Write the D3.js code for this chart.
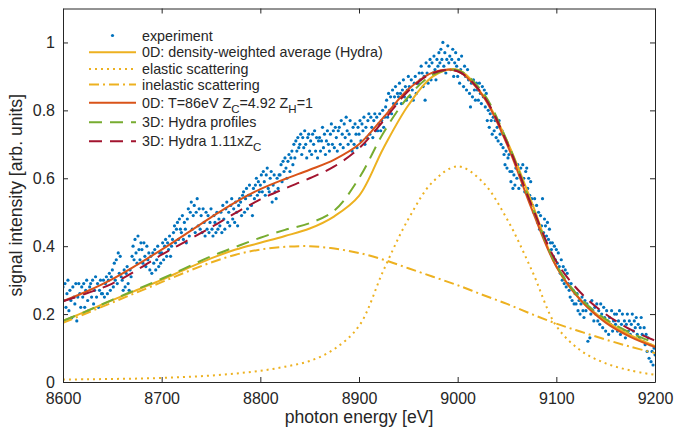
<!DOCTYPE html>
<html>
<head>
<meta charset="utf-8">
<script src="https://cdn.jsdelivr.net/npm/d3@7"></script>
<style>
  body { margin: 0; background: #fff; }
  svg { display: block; font-family: "Liberation Sans", Arial, Helvetica, sans-serif; }
</style>
</head>
<body>
<div id="chart"></div>
<script>
// tick values
const xTicks = [8600, 8700, 8800, 8900, 9000, 9100, 9200];
const yTicks = [0, 0.2, 0.4, 0.6, 0.8, 1];

// model curves, sampled every 25 eV
const modelEnergy = [8600, 8625, 8650, 8675, 8700, 8725, 8750, 8775, 8800, 8825, 8850, 8875, 8900,
    8925, 8950, 8975, 9000, 9025, 9050, 9075, 9100, 9125, 9150, 9175, 9200];
const densityAvg = [0.180, 0.210, 0.241, 0.271, 0.301, 0.333, 0.364, 0.390, 0.410, 0.430, 0.452, 0.488, 0.548,
    0.690, 0.815, 0.900, 0.920, 0.847, 0.710, 0.530, 0.340, 0.240, 0.180, 0.138, 0.106];
const elastic = [0.007, 0.008, 0.009, 0.010, 0.012, 0.015, 0.019, 0.025, 0.033, 0.045, 0.062, 0.097, 0.165,
    0.330, 0.480, 0.590, 0.635, 0.590, 0.480, 0.330, 0.165, 0.092, 0.055, 0.034, 0.021];
const inelastic = [0.174, 0.204, 0.234, 0.264, 0.294, 0.324, 0.352, 0.375, 0.390, 0.398, 0.400, 0.393, 0.380,
    0.360, 0.335, 0.310, 0.285, 0.257, 0.230, 0.200, 0.172, 0.148, 0.125, 0.104, 0.085];
const zeroDFit = [0.238, 0.268, 0.303, 0.345, 0.390, 0.437, 0.485, 0.530, 0.568, 0.598, 0.625, 0.655, 0.700,
    0.780, 0.862, 0.912, 0.915, 0.845, 0.700, 0.510, 0.340, 0.240, 0.175, 0.133, 0.103];
const hydraProfiles = [0.180, 0.210, 0.242, 0.273, 0.304, 0.337, 0.370, 0.398, 0.425, 0.448, 0.468, 0.505, 0.600,
    0.735, 0.840, 0.905, 0.918, 0.855, 0.710, 0.520, 0.345, 0.245, 0.185, 0.145, 0.115];
const hydraZc = [0.238, 0.262, 0.290, 0.330, 0.375, 0.415, 0.455, 0.498, 0.538, 0.570, 0.600, 0.635, 0.688,
    0.770, 0.857, 0.910, 0.915, 0.848, 0.705, 0.520, 0.355, 0.262, 0.200, 0.155, 0.122];

// measured spectrum, one value per eV from 8600 eV
const expStart = 8600;
const expValues = [
  0.28,0.24,0.29,0.22,0.26,0.30,0.21,0.27,0.24,0.19,0.28,0.25,0.23,0.29,0.18,0.25,0.29,0.26,0.22,0.28,
  0.25,0.29,0.22,0.27,0.30,0.24,0.21,0.28,0.29,0.25,0.30,0.23,0.27,0.31,0.25,0.29,0.22,0.27,0.30,0.26,
  0.26,0.30,0.25,0.29,0.31,0.26,0.30,0.32,0.27,0.31,0.33,0.28,0.35,0.30,0.36,0.29,0.38,0.32,0.37,0.31,
  0.30,0.27,0.33,0.28,0.32,0.34,0.29,0.27,0.33,0.31,0.37,0.40,0.36,0.42,0.38,0.35,0.43,0.39,0.36,0.41,
  0.39,0.35,0.41,0.37,0.34,0.40,0.36,0.38,0.33,0.37,0.32,0.38,0.35,0.39,0.33,0.36,0.40,0.34,0.38,0.35,
  0.38,0.41,0.36,0.40,0.42,0.37,0.41,0.39,0.43,0.37,0.40,0.42,0.44,0.46,0.41,0.45,0.47,0.42,0.48,0.45,
  0.44,0.49,0.42,0.47,0.45,0.41,0.48,0.51,0.43,0.50,0.53,0.45,0.49,0.52,0.44,0.50,0.54,0.46,0.51,0.45,
  0.49,0.44,0.51,0.47,0.43,0.50,0.45,0.49,0.44,0.47,0.51,0.45,0.43,0.49,0.47,0.44,0.50,0.45,0.48,0.46,
  0.50,0.44,0.52,0.48,0.45,0.51,0.53,0.47,0.50,0.46,0.52,0.54,0.48,0.51,0.47,0.53,0.50,0.46,0.52,0.54,
  0.53,0.49,0.55,0.56,0.50,0.54,0.57,0.51,0.55,0.58,0.55,0.52,0.49,0.57,0.54,0.58,0.60,0.55,0.59,0.56,
  0.58,0.61,0.56,0.62,0.59,0.55,0.61,0.63,0.57,0.56,0.60,0.62,0.53,0.58,0.61,0.56,0.54,0.60,0.57,0.61,
  0.61,0.64,0.59,0.65,0.62,0.66,0.63,0.60,0.65,0.67,0.62,0.66,0.68,0.64,0.70,0.66,0.71,0.68,0.72,0.69,
  0.70,0.73,0.67,0.72,0.69,0.74,0.70,0.66,0.72,0.73,0.68,0.71,0.67,0.73,0.70,0.74,0.68,0.72,0.66,0.71,
  0.72,0.68,0.71,0.75,0.69,0.73,0.67,0.71,0.74,0.70,0.68,0.73,0.76,0.70,0.74,0.69,0.75,0.72,0.68,0.74,
  0.75,0.70,0.77,0.73,0.69,0.76,0.72,0.78,0.74,0.70,0.73,0.77,0.71,0.68,0.75,0.70,0.76,0.73,0.69,0.75,
  0.73,0.77,0.71,0.76,0.74,0.78,0.70,0.75,0.72,0.77,0.79,0.73,0.78,0.75,0.72,0.77,0.79,0.74,0.78,0.74,
  0.76,0.79,0.74,0.77,0.80,0.75,0.78,0.81,0.83,0.78,0.85,0.80,0.84,0.79,0.86,0.82,0.84,0.87,0.82,0.85,
  0.84,0.88,0.85,0.82,0.86,0.89,0.84,0.87,0.83,0.86,0.90,0.87,0.84,0.89,0.86,0.83,0.88,0.90,0.85,0.88,
  0.88,0.91,0.89,0.93,0.91,0.87,0.90,0.83,0.94,0.91,0.88,0.93,0.95,0.89,0.94,0.91,0.96,0.92,0.89,0.95,
  0.93,0.97,0.94,0.98,0.95,1.00,0.93,0.97,0.91,0.95,0.99,0.94,0.96,0.92,0.95,0.98,0.90,0.94,0.97,0.93,
  0.90,0.95,0.88,0.92,0.96,0.91,0.87,0.93,0.90,0.86,0.92,0.89,0.85,0.81,0.88,0.84,0.89,0.86,0.83,0.88,
  0.86,0.83,0.88,0.85,0.82,0.87,0.84,0.86,0.81,0.85,0.77,0.80,0.75,0.79,0.77,0.73,0.78,0.74,0.77,0.72,
  0.75,0.71,0.77,0.73,0.70,0.74,0.69,0.67,0.64,0.68,0.63,0.66,0.67,0.62,0.59,0.62,0.57,0.61,0.58,0.63,
  0.60,0.64,0.57,0.61,0.63,0.58,0.64,0.60,0.56,0.62,0.63,0.57,0.60,0.55,0.59,0.54,0.52,0.50,0.54,0.49,
  0.52,0.47,0.50,0.45,0.49,0.46,0.54,0.44,0.48,0.46,0.43,0.47,0.42,0.45,0.41,0.39,0.41,0.37,0.40,0.36,
  0.39,0.35,0.38,0.34,0.32,0.36,0.30,0.34,0.29,0.33,0.28,0.32,0.29,0.27,0.25,0.29,0.24,0.27,0.23,0.26,
  0.23,0.26,0.21,0.24,0.20,0.23,0.25,0.21,0.19,0.24,0.21,0.23,0.12,0.22,0.13,0.20,0.24,0.21,0.18,0.22,
  0.20,0.23,0.18,0.21,0.17,0.23,0.20,0.16,0.22,0.19,0.15,0.21,0.18,0.14,0.19,0.17,0.21,0.15,0.18,0.20,
  0.17,0.20,0.15,0.18,0.21,0.14,0.17,0.20,0.15,0.18,0.13,0.17,0.20,0.15,0.18,0.14,0.17,0.20,0.15,0.18,
  0.16,0.19,0.14,0.17,0.13,0.16,0.19,0.14,0.12,0.16,0.11,0.14,0.09,0.13,0.07,0.11,0.06,0.09,0.05,0.10,
  0.08
];

const seriesNames = [
    "experiment",
    "0D: density-weighted average (Hydra)",
    "elastic scattering",
    "inelastic scattering",
    "0D: T=86eV Z_C=4.92 Z_H=1",
    "3D: Hydra profiles",
    "3D: Hydra 1.11xZ_C"
];

const width = 686, height = 428;
const margin = { left: 63, right: 31, top: 8.5, bottom: 46 };

const svg = d3.select("#chart").append("svg")
    .attr("width", width)
    .attr("height", height);

const x = d3.scaleLinear().domain([8600, 9200]).range([margin.left, width - margin.right]);
const y = d3.scaleLinear().domain([0, 1.1]).range([height - margin.bottom, margin.top]);

svg.append("clipPath").attr("id", "plotclip")
    .append("rect")
    .attr("x", margin.left).attr("y", margin.top)
    .attr("width", x.range()[1] - x.range()[0])
    .attr("height", y.range()[0] - y.range()[1]);

const plot = svg.append("g").attr("clip-path", "url(#plotclip)");

// experiment points
const expData = expValues.map((v, i) => ({ e: expStart + i, v: v }));
plot.append("g")
    .selectAll("circle")
    .data(expData)
    .enter().append("circle")
    .attr("cx", d => x(d.e))
    .attr("cy", d => y(d.v))
    .attr("r", 1.6)
    .attr("fill", "#0072BD");

const curves = [
    { values: densityAvg, color: "#EDB120", dash: null },
    { values: elastic, color: "#EDB120", dash: "2,4" },
    { values: inelastic, color: "#EDB120", dash: "10,4,2,4" },
    { values: zeroDFit, color: "#D95319", dash: null },
    { values: hydraProfiles, color: "#77AC30", dash: "13,8" },
    { values: hydraZc, color: "#A2142F", dash: "13,8" }
];

const line = d3.line()
    .x(d => x(d[0]))
    .y(d => y(d[1]))
    .curve(d3.curveCatmullRom.alpha(0.5));

curves.forEach(c => {
    plot.append("path")
        .datum(modelEnergy.map((e, i) => [e, c.values[i]]))
        .attr("d", line)
        .attr("fill", "none")
        .attr("stroke", c.color)
        .attr("stroke-width", 2)
        .attr("stroke-dasharray", c.dash);
});

// axes (box with inward ticks)
const axisColor = "#262626";
const tick = 5;

svg.append("g")
    .attr("transform", `translate(0,${y.range()[0]})`)
    .call(d3.axisBottom(x).tickValues(xTicks).tickSizeInner(-tick).tickSizeOuter(0)
        .tickPadding(10.5).tickFormat(d3.format("d")));
svg.append("g")
    .attr("transform", `translate(0,${y.range()[1]})`)
    .call(d3.axisTop(x).tickValues(xTicks).tickSizeInner(-tick).tickSizeOuter(0).tickFormat(""));
svg.append("g")
    .attr("transform", `translate(${x.range()[0]},0)`)
    .call(d3.axisLeft(y).tickValues(yTicks).tickSizeInner(-tick).tickSizeOuter(0)
        .tickPadding(8).tickFormat(d => String(d)));
svg.append("g")
    .attr("transform", `translate(${x.range()[1]},0)`)
    .call(d3.axisRight(y).tickValues(yTicks).tickSizeInner(-tick).tickSizeOuter(0).tickFormat(""));

svg.selectAll(".domain, .tick line").attr("stroke", axisColor).attr("stroke-width", 1);
svg.selectAll(".tick text").attr("fill", axisColor).attr("font-size", 16)
    .attr("font-family", "'Liberation Sans', Arial, Helvetica, sans-serif");

svg.append("text")
    .attr("x", (x.range()[0] + x.range()[1]) / 2)
    .attr("y", 423)
    .attr("text-anchor", "middle")
    .attr("font-size", 17.6)
    .attr("fill", axisColor)
    .text("photon energy [eV]");

svg.append("text")
    .attr("transform", `translate(22,${(y.range()[0] + y.range()[1]) / 2}) rotate(-90)`)
    .attr("text-anchor", "middle")
    .attr("font-size", 17.6)
    .attr("fill", axisColor)
    .text("signal intensity [arb. units]");

// legend
const legendY = [35.5, 52.3, 69, 84.5, 102.7, 122.3, 141.3];
const legendStyles = [{ marker: true }].concat(curves);
const legend = svg.append("g");

seriesNames.forEach((name, i) => {
    const ly = legendY[i];
    const st = legendStyles[i];
    if (st.marker) {
        legend.append("circle")
            .attr("cx", 112.5).attr("cy", ly).attr("r", 1.6)
            .attr("fill", "#0072BD");
    } else {
        legend.append("line")
            .attr("x1", 89).attr("x2", 136)
            .attr("y1", ly).attr("y2", ly)
            .attr("stroke", st.color)
            .attr("stroke-width", 2)
            .attr("stroke-dasharray", st.dash);
    }
    const t = legend.append("text")
        .attr("x", 142)
        .attr("y", ly + 5)
        .attr("font-size", 14.3)
        .attr("fill", axisColor);
    // "_X" marks a one-letter subscript
    const parts = name.split(/_(\w)/);
    parts.forEach((p, k) => {
        if (p === "") return;
        if (k % 2 === 1) {
            t.append("tspan").attr("font-size", 11.5).attr("dy", 5).text(p);
        } else {
            const s = t.append("tspan").text(p);
            if (k > 0) s.attr("dy", -5);
        }
    });
});
</script>
</body>
</html>
